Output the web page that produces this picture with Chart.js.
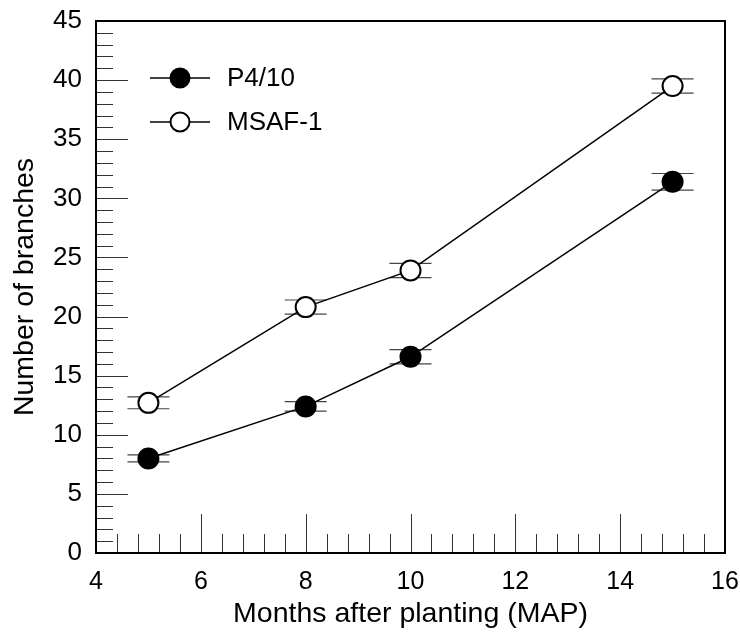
<!DOCTYPE html>
<html>
<head>
<meta charset="utf-8">
<script src="https://cdn.jsdelivr.net/npm/chart.js@4"></script>
<style>
  body { margin: 0; background: #fff; }
  #wrap { width: 740px; height: 632px; }
</style>
</head>
<body>
<div id="wrap"><canvas id="branchChart" width="740" height="632"></canvas></div>
<script>
// Number of branches vs months after planting
const months = [5, 8, 10, 15];
const p410 = [8.0, 12.4, 16.6, 31.4];
const p410Err = [0.3, 0.4, 0.6, 0.7];
const msaf = [12.7, 20.8, 23.9, 39.5];
const msafErr = [0.5, 0.6, 0.6, 0.6];

const seriesNames = ['P4/10', 'MSAF-1'];
const xMajorTicks = [6, 8, 10, 12, 14];
const yMajorTicks = [5, 10, 15, 20, 25, 30, 35, 40];

const FONT = 'Arial, "Liberation Sans", sans-serif';

function toPoints(ys, errs) {
  return months.map((m, i) => ({ x: m, y: ys[i], err: errs[i] }));
}

// box, inward ticks and error-bar caps
const framePlugin = {
  id: 'frame',
  beforeDatasetsDraw(chart) {
    const ctx = chart.ctx;
    const xs = chart.scales.x, ys = chart.scales.y;
    ctx.save();
    ctx.strokeStyle = '#444';
    ctx.lineWidth = 1.2;
    chart.data.datasets.forEach(ds => {
      ds.data.forEach(p => {
        const px = xs.getPixelForValue(p.x);
        const hi = ys.getPixelForValue(p.y + p.err);
        const lo = ys.getPixelForValue(p.y - p.err);
        ctx.beginPath();
        ctx.moveTo(px - 21, hi); ctx.lineTo(px + 21, hi);
        ctx.moveTo(px - 21, lo); ctx.lineTo(px + 21, lo);
        ctx.moveTo(px, hi); ctx.lineTo(px, lo);
        ctx.stroke();
      });
    });
    ctx.restore();
  },
  afterDraw(chart) {
    const ctx = chart.ctx;
    const a = chart.chartArea;
    const xs = chart.scales.x, ys = chart.scales.y;
    ctx.save();
    ctx.strokeStyle = '#333';
    ctx.lineWidth = 1;
    // y ticks every 1, major every 5
    for (let v = 1; v < 45; v++) {
      const py = Math.round(ys.getPixelForValue(v)) + 0.5;
      const len = yMajorTicks.includes(v) ? 32 : 17;
      ctx.beginPath();
      ctx.moveTo(a.left, py); ctx.lineTo(a.left + len, py);
      ctx.stroke();
    }
    // x ticks every 0.4, major every 2
    for (let k = 1; k < 30; k++) {
      const v = 4 + k * 0.4;
      const px = Math.round(xs.getPixelForValue(v)) + 0.5;
      const major = xMajorTicks.some(t => Math.abs(t - v) < 1e-6);
      const len = major ? 39 : 19;
      ctx.beginPath();
      ctx.moveTo(px, a.bottom); ctx.lineTo(px, a.bottom - len);
      ctx.stroke();
    }
    // frame
    ctx.strokeStyle = '#000';
    ctx.lineWidth = 2;
    ctx.strokeRect(a.left, a.top, a.right - a.left, a.bottom - a.top);

    // legend
    const rows = [
      { name: seriesNames[0], fill: '#000', y: a.top + 57 },
      { name: seriesNames[1], fill: '#fff', y: a.top + 101 }
    ];
    rows.forEach(r => {
      const lx0 = a.left + 54, lx1 = a.left + 114, cx = a.left + 84;
      ctx.strokeStyle = '#000';
      ctx.lineWidth = 1.5;
      ctx.beginPath();
      ctx.moveTo(lx0, r.y); ctx.lineTo(lx1, r.y);
      ctx.stroke();
      ctx.beginPath();
      ctx.arc(cx, r.y, 9.5, 0, Math.PI * 2);
      ctx.fillStyle = r.fill;
      ctx.fill();
      ctx.lineWidth = 2;
      ctx.stroke();
      ctx.fillStyle = '#000';
      ctx.font = '26px ' + FONT;
      ctx.textBaseline = 'middle';
      ctx.textAlign = 'left';
      ctx.fillText(r.name, a.left + 131, r.y + 1);
    });
    ctx.restore();
  }
};

new Chart(document.getElementById('branchChart'), {
  type: 'scatter',
  data: {
    datasets: [
      {
        label: seriesNames[0],
        data: toPoints(p410, p410Err),
        showLine: true,
        borderColor: '#000',
        borderWidth: 1.5,
        pointRadius: 10,
        pointBorderWidth: 2,
        pointBackgroundColor: '#000',
        pointBorderColor: '#000'
      },
      {
        label: seriesNames[1],
        data: toPoints(msaf, msafErr),
        showLine: true,
        borderColor: '#000',
        borderWidth: 1.5,
        pointRadius: 10,
        pointBorderWidth: 2,
        pointBackgroundColor: '#fff',
        pointBorderColor: '#000'
      }
    ]
  },
  options: {
    responsive: false,
    animation: false,
    devicePixelRatio: 1,
    layout: { padding: { left: 0, top: 21, right: 15, bottom: 0 } },
    plugins: {
      legend: { display: false },
      tooltip: { enabled: false }
    },
    scales: {
      x: {
        type: 'linear',
        min: 4, max: 16,
        grid: { display: false, drawTicks: false, tickLength: 0 },
        border: { display: false },
        ticks: {
          stepSize: 2,
          padding: 14,
          color: '#000',
          font: { family: FONT, size: 25 },
          maxRotation: 0
        },
        title: {
          display: true,
          text: 'Months after planting (MAP)',
          color: '#000',
          font: { family: FONT, size: 28.5 },
          padding: { top: 0, bottom: 1 }
        },
        afterFit: s => {
          s.height = 79;
          s.paddingLeft = 0;
          s.paddingRight = 0;
        }
      },
      y: {
        min: 0, max: 45,
        grid: { display: false, drawTicks: false, tickLength: 0 },
        border: { display: false },
        ticks: {
          stepSize: 5,
          padding: 14,
          color: '#000',
          font: { family: FONT, size: 26 }
        },
        title: {
          display: true,
          text: 'Number of branches',
          color: '#000',
          font: { family: FONT, size: 28.5 },
          padding: { top: 8, bottom: 0 }
        },
        afterFit: s => {
          s.width = 96;
          s.paddingTop = 0;
          s.paddingBottom = 0;
        }
      }
    }
  },
  plugins: [framePlugin]
});
</script>
</body>
</html>
